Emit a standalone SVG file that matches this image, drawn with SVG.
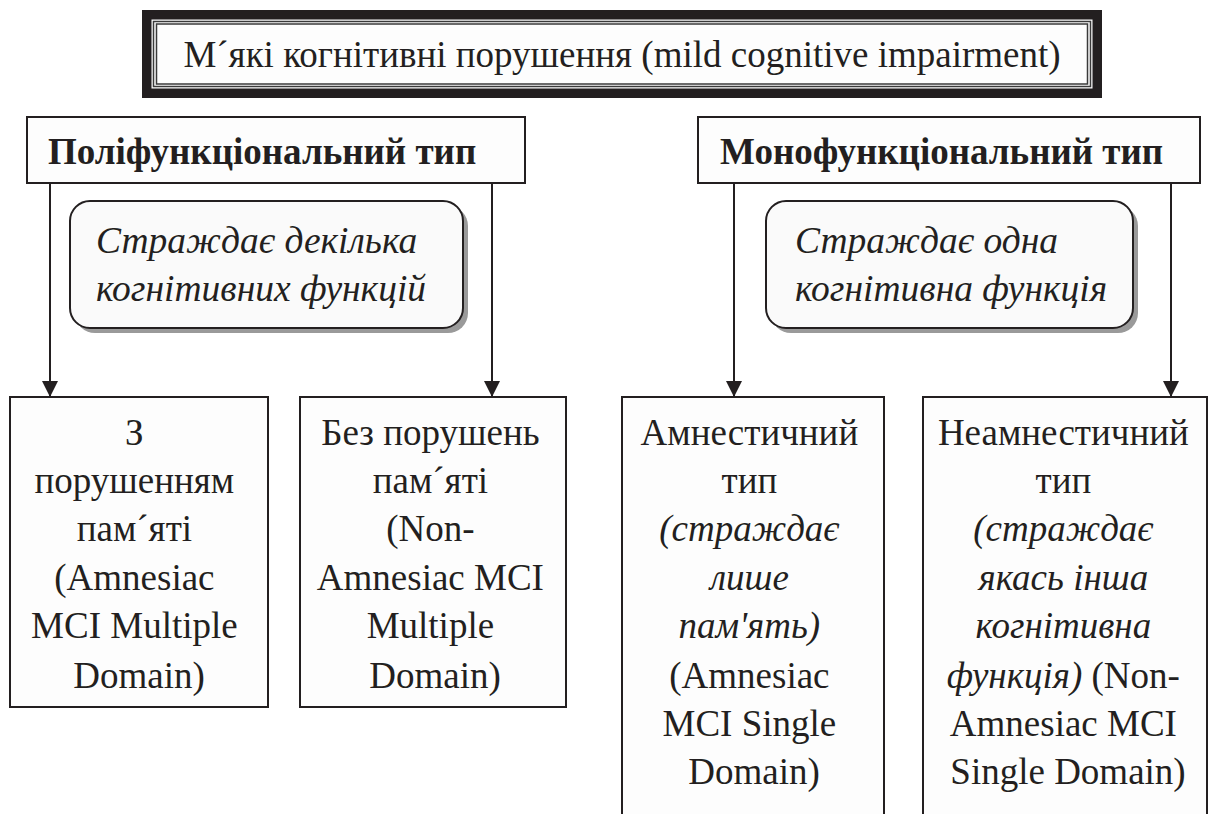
<svg xmlns="http://www.w3.org/2000/svg" width="1210" height="814" viewBox="0 0 1210 814">
<defs>
<marker id="arr" markerWidth="16" markerHeight="16" refX="16" refY="8" orient="auto" markerUnits="userSpaceOnUse">
<path d="M0,0 L16,8 L0,16 Z" fill="#231f20"/>
</marker>
</defs>
<rect width="1210" height="814" fill="#ffffff"/>

<g id="title">
<rect x="142" y="10" width="960" height="88" fill="#231f20"/>
<rect x="151.5" y="19.5" width="941" height="69" fill="#fdfdfd"/>
<rect x="153.5" y="21.5" width="937" height="65" fill="none" stroke="#3a3a3a" stroke-width="1.5"/>
<rect x="156.5" y="24" width="931" height="60" fill="none" stroke="#3a3a3a" stroke-width="1.5"/>
<text font-family="Liberation Serif, serif" font-size="37" fill="#231f20" x="622" y="67" text-anchor="middle">М´які когнітивні порушення (mild cognitive impairment)</text>
</g>

<g id="poly">
<rect x="27" y="117" width="498" height="66" fill="#fdfdfd" stroke="#231f20" stroke-width="2"/>
<text font-family="Liberation Serif, serif" font-size="37" font-weight="bold" fill="#231f20" x="48" y="164">Поліфункціональний тип</text>
</g>

<g id="mono">
<rect x="698" y="117" width="502" height="66" fill="#fdfdfd" stroke="#231f20" stroke-width="2"/>
<text font-family="Liberation Serif, serif" font-size="37" font-weight="bold" fill="#231f20" x="720" y="164">Монофункціональний тип</text>
</g>

<g id="poly-note">
<rect x="75" y="206" width="393" height="127" rx="20" ry="20" fill="#9a9a9a"/>
<rect x="70" y="201" width="393" height="127" rx="20" ry="20" fill="#fafafa" stroke="#231f20" stroke-width="2"/>
<text font-family="Liberation Serif, serif" font-size="37.5" font-style="italic" fill="#231f20" x="96" y="253">Страждає декілька</text>
<text font-family="Liberation Serif, serif" font-size="37.5" font-style="italic" fill="#231f20" x="96" y="301">когнітивних функцій</text>
</g>

<g id="mono-note">
<rect x="771" y="206" width="367" height="127" rx="20" ry="20" fill="#9a9a9a"/>
<rect x="766" y="201" width="367" height="127" rx="20" ry="20" fill="#fafafa" stroke="#231f20" stroke-width="2"/>
<text font-family="Liberation Serif, serif" font-size="37.5" font-style="italic" fill="#231f20" x="795" y="253">Страждає одна</text>
<text font-family="Liberation Serif, serif" font-size="37.5" font-style="italic" fill="#231f20" x="795" y="301">когнітивна функція</text>
</g>

<g id="connectors" stroke="#231f20" stroke-width="2" fill="none">
<line x1="50" y1="183" x2="50" y2="397" marker-end="url(#arr)"/>
<line x1="492" y1="183" x2="492" y2="397" marker-end="url(#arr)"/>
<line x1="734" y1="183" x2="734" y2="397" marker-end="url(#arr)"/>
<line x1="1171" y1="183" x2="1171" y2="397" marker-end="url(#arr)"/>
</g>

<g id="amn-multi">
<rect x="10" y="397" width="258" height="310" fill="#fdfdfd" stroke="#231f20" stroke-width="2"/>
<text font-family="Liberation Serif, serif" font-size="37" fill="#231f20" text-anchor="middle">
<tspan x="139" y="445">З</tspan>
<tspan x="139" y="493">порушенням</tspan>
<tspan x="139" y="541">пам´яті</tspan>
<tspan x="139" y="590">(Amnesiac</tspan>
<tspan x="139" y="638">MCI Multiple</tspan>
<tspan x="139" y="688">Domain)</tspan>
</text>
</g>

<g id="nonamn-multi">
<rect x="300" y="397" width="266" height="310" fill="#fdfdfd" stroke="#231f20" stroke-width="2"/>
<text font-family="Liberation Serif, serif" font-size="37" fill="#231f20" text-anchor="middle">
<tspan x="435" y="445">Без порушень</tspan>
<tspan x="435" y="493">пам´яті</tspan>
<tspan x="435" y="541">(Non-</tspan>
<tspan x="435" y="590">Amnesiac MCI</tspan>
<tspan x="435" y="638">Multiple</tspan>
<tspan x="435" y="688">Domain)</tspan>
</text>
</g>

<g id="amn-single">
<rect x="622" y="397" width="262" height="430" fill="#fdfdfd" stroke="#231f20" stroke-width="2"/>
<text font-family="Liberation Serif, serif" font-size="37" fill="#231f20" text-anchor="middle">
<tspan x="754" y="445">Амнестичний</tspan>
<tspan x="754" y="493">тип</tspan>
<tspan x="754" y="541" font-style="italic">(страждає</tspan>
<tspan x="754" y="590" font-style="italic">лише</tspan>
<tspan x="754" y="638" font-style="italic">пам'ять)</tspan>
<tspan x="754" y="688">(Amnesiac</tspan>
<tspan x="754" y="736">MCI Single</tspan>
<tspan x="754" y="784">Domain)</tspan>
</text>
</g>

<g id="nonamn-single">
<rect x="923" y="397" width="284" height="430" fill="#fdfdfd" stroke="#231f20" stroke-width="2"/>
<text font-family="Liberation Serif, serif" font-size="37" fill="#231f20" text-anchor="middle">
<tspan x="1068" y="445">Неамнестичний</tspan>
<tspan x="1068" y="493">тип</tspan>
<tspan x="1068" y="541" font-style="italic">(страждає</tspan>
<tspan x="1068" y="590" font-style="italic">якась інша</tspan>
<tspan x="1068" y="638" font-style="italic">когнітивна</tspan>
<tspan x="1068" y="688"><tspan font-style="italic">функція)</tspan> (Non-</tspan>
<tspan x="1068" y="736">Amnesiac MCI</tspan>
<tspan x="1068" y="784">Single Domain)</tspan>
</text>
</g>
</svg>
